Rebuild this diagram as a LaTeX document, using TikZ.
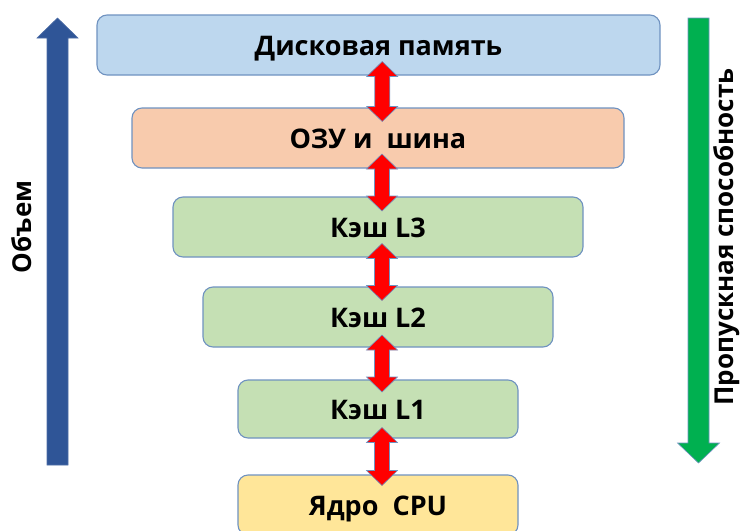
\documentclass[tikz,border=0pt]{standalone}
\usepackage{fontspec}
\setmainfont{Open Sans}
\usetikzlibrary{calc}
\definecolor{bluefill}{HTML}{BDD7EE}
\definecolor{peachfill}{HTML}{F8CBAD}
\definecolor{greenfill}{HTML}{C5E0B4}
\definecolor{yellowfill}{HTML}{FFE699}
\definecolor{boxline}{HTML}{6F92C0}
\definecolor{arrred}{HTML}{FF0000}
\definecolor{arrblue}{HTML}{2F5597}
\definecolor{arrgreen}{HTML}{00B050}
\tikzset{
  level/.style={draw=boxline, line width=1.1pt, rounded corners=10pt, minimum height=60pt, inner sep=0pt,
    text height=20pt, text depth=0pt,
    font=\bfseries\fontsize{27}{30}\selectfont},
  sidelabel/.style={rotate=90, font=\bfseries\fontsize{26}{29}\selectfont},
  pics/dbl/.style={code={
    \path[fill=arrred, draw=boxline, line width=0.6pt]
      (0,{-#1}) -- (15.5,{-#1+15}) -- (7.5,{-#1+15}) -- (7.5,{#1-15}) -- (15.5,{#1-15}) -- (0,{#1})
      -- (-15.5,{#1-15}) -- (-7.5,{#1-15}) -- (-7.5,{-#1+15}) -- (-15.5,{-#1+15}) -- cycle;
  }},
}
\begin{document}
\begin{tikzpicture}[x=1pt,y=-1pt]
\useasboundingbox (0,0) rectangle (744,530);
\node[level, fill=bluefill, minimum width=563pt] (b1) at (378.5,45) {Дисковая память};
\node[level, fill=peachfill, minimum width=492pt] (b2) at (378,138) {ОЗУ и\ \ шина};
\node[level, fill=greenfill, minimum width=410pt] (b3) at (378,227) {Кэш L3};
\node[level, fill=greenfill, minimum width=350pt] (b4) at (378,317) {Кэш L2};
\node[level, fill=greenfill, minimum width=280pt, minimum height=58pt] (b5) at (378,409) {Кэш L1};
\node[level, fill=yellowfill, minimum width=280pt] (b6) at (378,505) {Ядро\ \ CPU};
\pic (a1) at ($(b1.south)!0.5!(b2.north)+(4,0)$) {dbl=30};
\pic (a2) at ($(b2.south)!0.5!(b3.north)+(4,0)$) {dbl=28.5};
\pic (a3) at ($(b3.south)!0.5!(b4.north)+(4,0)$) {dbl=28.5};
\pic (a4) at ($(b4.south)!0.5!(b5.north)+(4,0)$) {dbl=28.5};
\pic (a5) at ($(b5.south)!0.5!(b6.north)+(4,0)$) {dbl=29};
\coordinate (upc) at (57.5,0);
\path[fill=arrblue, draw=arrblue!85!white, line width=0.6pt]
  ($(upc)+(0,18)$) -- ($(upc)+(20.5,38)$) -- ($(upc)+(10.5,38)$) -- ($(upc)+(10.5,465)$)
  -- ($(upc)+(-10.5,465)$) -- ($(upc)+(-10.5,38)$) -- ($(upc)+(-20.5,38)$) -- cycle;
\coordinate (dnc) at (698.5,0);
\path[fill=arrgreen, draw=boxline, line width=0.6pt]
  ($(dnc)+(0,463)$) -- ($(dnc)+(21,443)$) -- ($(dnc)+(10.5,443)$) -- ($(dnc)+(10.5,18)$)
  -- ($(dnc)+(-10.5,18)$) -- ($(dnc)+(-10.5,443)$) -- ($(dnc)+(-21,443)$) -- cycle;
\node[sidelabel] (vol) at (22,227) {Объем};
\node[sidelabel] (bw) at (727,237) {Пропускная способность};
\end{tikzpicture}
\end{document}
